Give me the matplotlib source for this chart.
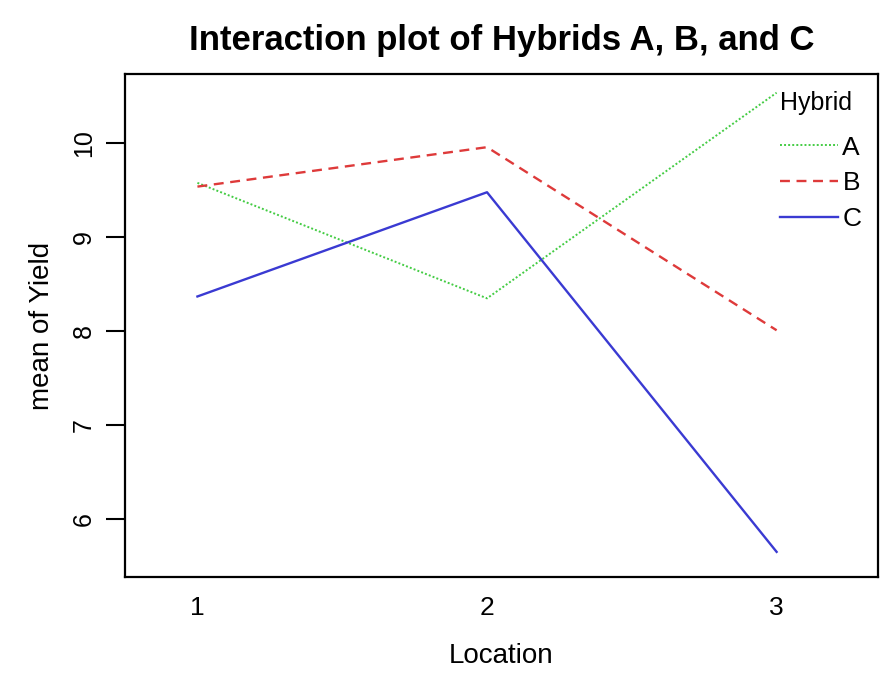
import matplotlib
matplotlib.use("Agg")
import matplotlib.pyplot as plt

plt.rcParams['font.family'] = ['Liberation Sans', 'DejaVu Sans']

locations = ["1", "2", "3"]
hybrids = ["A", "B", "C"]
yield_A = [9.58, 8.35, 10.54]
yield_B = [9.54, 9.96, 8.01]
yield_C = [8.37, 9.48, 5.65]
yticks = [6, 7, 8, 9, 10]

colors = {"A": "#44cc44", "B": "#de3a3a", "C": "#3a3ad2"}
styles = {"A": (0, (1, 1.1)), "B": (0, (4.2, 2.8)), "C": "-"}
widths = {"A": 1.4, "B": 1.7, "C": 1.7}
series = {"A": yield_A, "B": yield_B, "C": yield_C}

fig = plt.figure(figsize=(8.88, 6.73), dpi=100)
ax = fig.add_axes([0.1408, 0.1426, 0.9887 - 0.1408, 0.8900 - 0.1426])
xs = list(range(1, len(locations) + 1))
for h in hybrids:
    ax.plot(xs, series[h], color=colors[h], linestyle=styles[h], linewidth=widths[h], label=h)

ax.set_xlim(0.75, 3.35)
ax.set_ylim(5.382, 10.739)
ax.set_xticks(xs)
ax.set_xticklabels(locations)
ax.set_yticks(yticks)
ax.set_yticklabels([str(v) for v in yticks], rotation=90, va='center')
ax.tick_params(axis='x', length=0, pad=14, labelsize=19)
ax.tick_params(axis='y', length=14, width=1.5, pad=7, labelsize=18)
for s in ax.spines.values():
    s.set_linewidth(1.6)
ax.set_xlabel("Location", fontsize=20, labelpad=16)
ax.set_ylabel("mean of Yield", fontsize=20, labelpad=12)
ax.set_title("Interaction plot of Hybrids A, B, and C", fontsize=25, fontweight='bold', pad=17)

leg = ax.legend(title="Hybrid", loc='upper right', frameon=False, fontsize=19, title_fontsize=18,
                handlelength=2.2, handletextpad=0.15, labelspacing=0.45,
                borderaxespad=0, bbox_to_anchor=(0.992, 0.988), alignment='left')
try:
    leg._legend_box.sep = 0.45 * 19 + 6.5
except Exception:
    pass

fig.savefig("out.png", dpi=100)
